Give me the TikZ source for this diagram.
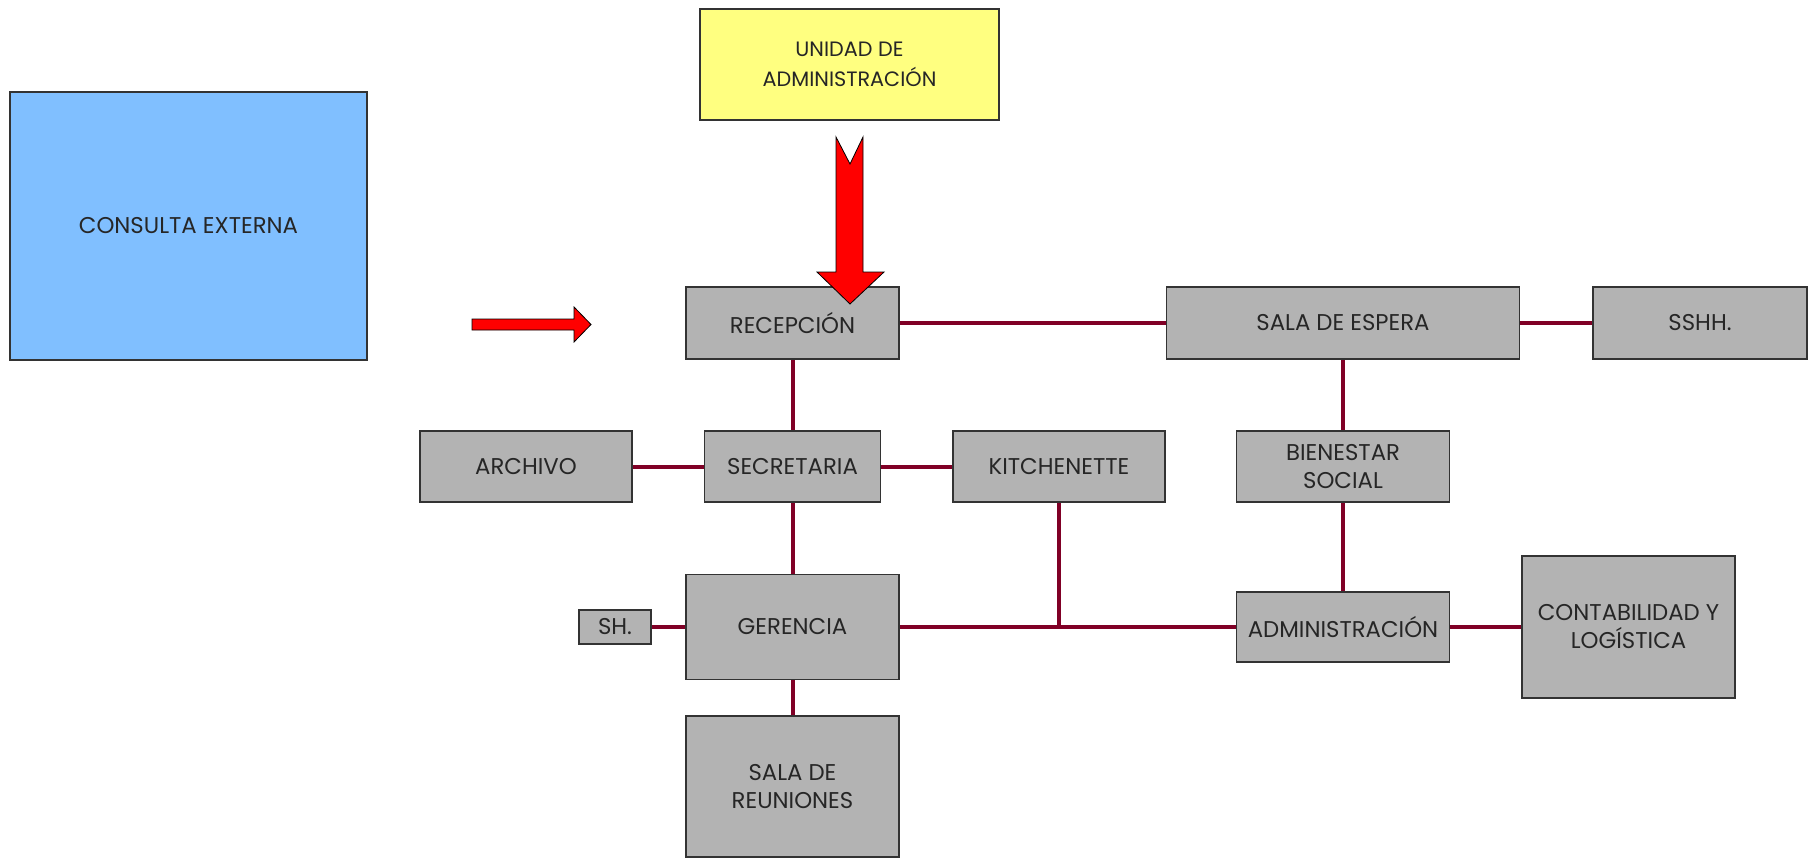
\documentclass[tikz,border=0pt]{standalone}
\usepackage{fontspec}
\setmainfont{Poppins}
\usetikzlibrary{backgrounds}
\definecolor{boxgray}{HTML}{B3B3B3}
\definecolor{boxline}{HTML}{333333}
\definecolor{linkred}{HTML}{800026}
\definecolor{extblue}{HTML}{80BFFF}
\definecolor{unityellow}{HTML}{FFFF80}

\begin{document}
\begin{tikzpicture}[x=1pt,y=-1pt,
  room/.style={draw=boxline, line width=1.5pt, fill=boxgray, inner sep=0pt,
    outer sep=0pt, align=center, text=black!85,
    font=\fontsize{22.8}{28}\selectfont},
  link/.style={draw=linkred, line width=4pt},
  blockarrow/.style={fill=red, draw=black, line width=0.8pt, line join=miter}]
\useasboundingbox (0,0) rectangle (1809,859);

% outside units
\node[room, fill=extblue, minimum width=357pt, minimum height=268pt]
  (cons) at (188.5,226) {CONSULTA EXTERNA};
\node[room, fill=unityellow, minimum width=299pt, minimum height=111pt,
  font=\fontsize{20.8}{30}\selectfont]
  (unit) at (849.5,64.5) {UNIDAD DE\\ADMINISTRACIÓN};

% rooms
\node[room, minimum width=213pt, minimum height=72pt] (rec) at (792.5,323) {RECEPCIÓN};
\node[room, minimum width=353pt, minimum height=72pt] (esp) at (1343,323) {SALA DE ESPERA};
\node[room, minimum width=214pt, minimum height=72pt] (sshh) at (1700,323) {SSHH.};
\node[room, minimum width=212pt, minimum height=71pt] (arch) at (526,466.5) {ARCHIVO};
\node[room, minimum width=176pt, minimum height=71pt] (sec) at (792.5,466.5) {SECRETARIA};
\node[room, minimum width=212pt, minimum height=71pt] (kit) at (1059,466.5) {KITCHENETTE};
\node[room, minimum width=213pt, minimum height=71pt] (bien) at (1343,466.5) {BIENESTAR\\SOCIAL};
\node[room, minimum width=72pt, minimum height=34pt] (sh) at (615,627) {SH.};
\node[room, minimum width=213pt, minimum height=105pt] (ger) at (792.5,627) {GERENCIA};
\node[room, minimum width=213pt, minimum height=70pt] (adm) at (1343,627) {ADMINISTRACIÓN};
\node[room, minimum width=213pt, minimum height=142pt] (cont) at (1628.5,627) {CONTABILIDAD Y\\LOGÍSTICA};
\node[room, minimum width=213pt, minimum height=141pt] (reu) at (792.5,786.5) {SALA DE\\REUNIONES};

\coordinate (kj) at (kit.south |- ger.east);

% connectors between rooms
\begin{scope}[on background layer]
  \draw[link] (rec.east) -- (esp.west);
  \draw[link] (esp.east) -- (sshh.west);
  \draw[link] (rec.south) -- (sec.north);
  \draw[link] (arch.east) -- (sec.west);
  \draw[link] (sec.east) -- (kit.west);
  \draw[link] (esp.south) -- (bien.north);
  \draw[link] (bien.south) -- (adm.north);
  \draw[link] (sec.south) -- (ger.north);
  \draw[link] (sh.east) -- (ger.west);
  \draw[link] (ger.east) -- (adm.west);
  \draw[link] (kit.south) -- (kj);
  \draw[link] (adm.east) -- (cont.west);
  \draw[link] (ger.south) -- (reu.north);
\end{scope}

% entrance arrows
\draw[blockarrow] (472,319) -- (574,319) -- (574,307) -- (591,324.5)
  -- (574,342) -- (574,330) -- (472,330) -- cycle;
\draw[blockarrow] (836,137) -- (850,164) -- (863,137) -- (863,272)
  -- (884,272) -- (850,304) -- (817,272) -- (836,272) -- cycle;
\end{tikzpicture}
\end{document}
